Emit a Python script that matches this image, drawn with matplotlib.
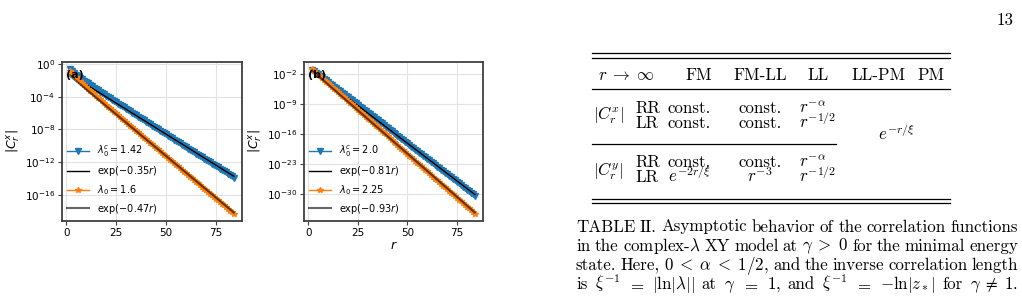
import numpy as np
import matplotlib.pyplot as plt
from matplotlib.lines import Line2D
from matplotlib.ticker import FixedLocator, NullLocator

# ---- data (log10 |C_r^x|), r = 2 ... 84 ----
r = np.arange(2, 85)

a_blue = [-0.62, -0.87, -1.08, -1.28, -1.47, -1.66, -1.84, -2.02, -2.19, -2.36,
          -2.53, -2.70, -2.87, -3.04, -3.20, -3.37, -3.53, -3.70, -3.86, -4.02,
          -4.19, -4.35, -4.51, -4.67, -4.83, -4.99, -5.15, -5.31, -5.47, -5.63,
          -5.79, -5.95, -6.10, -6.26, -6.42, -6.58, -6.74, -6.89, -7.05, -7.21,
          -7.37, -7.52, -7.68, -7.84, -7.99, -8.15, -8.31, -8.46, -8.62, -8.78,
          -8.93, -9.09, -9.24, -9.40, -9.56, -9.71, -9.87, -10.02, -10.18, -10.34,
          -10.49, -10.65, -10.80, -10.96, -11.11, -11.27, -11.42, -11.58, -11.73,
          -11.89, -12.04, -12.20, -12.35, -12.51, -12.66, -12.82, -12.97, -13.13,
          -13.28, -13.44, -13.59, -13.75, -13.90]
a_orange = [-0.80, -1.09, -1.36, -1.61, -1.86, -2.10, -2.32, -2.56, -2.78, -3.01,
            -3.23, -3.45, -3.67, -3.89, -4.11, -4.33, -4.54, -4.76, -4.97, -5.19,
            -5.40, -5.62, -5.83, -6.04, -6.26, -6.47, -6.68, -6.89, -7.10, -7.32,
            -7.52, -7.74, -7.95, -8.16, -8.37, -8.58, -8.79, -9.00, -9.20, -9.42,
            -9.62, -9.84, -10.04, -10.26, -10.46, -10.67, -10.88, -11.09, -11.30,
            -11.51, -11.71, -11.92, -12.13, -12.34, -12.54, -12.76, -12.96, -13.17,
            -13.38, -13.59, -13.79, -14.00, -14.20, -14.42, -14.62, -14.83, -15.04,
            -15.25, -15.45, -15.66, -15.87, -16.07, -16.27, -16.49, -16.69, -16.90,
            -17.11, -17.32, -17.52, -17.73, -17.94, -18.14, -18.34]
b_blue = [-1.00, -1.36, -1.72, -2.08, -2.43, -2.79, -3.15, -3.51, -3.87, -4.23,
          -4.59, -4.94, -5.30, -5.66, -6.02, -6.38, -6.74, -7.09, -7.45, -7.81,
          -8.17, -8.53, -8.89, -9.25, -9.60, -9.96, -10.32, -10.68, -11.04, -11.40,
          -11.76, -12.11, -12.47, -12.83, -13.19, -13.55, -13.91, -14.26, -14.62,
          -14.98, -15.34, -15.70, -16.06, -16.42, -16.77, -17.13, -17.49, -17.85,
          -18.21, -18.57, -18.93, -19.28, -19.64, -20.00, -20.36, -20.72, -21.08,
          -21.44, -21.79, -22.15, -22.51, -22.87, -23.23, -23.59, -23.94, -24.30,
          -24.66, -25.02, -25.38, -25.74, -26.10, -26.45, -26.81, -27.17, -27.53,
          -27.89, -28.25, -28.60, -28.96, -29.32, -29.68, -30.04, -30.40]
b_orange = [-0.90, -1.31, -1.72, -2.13, -2.54, -2.96, -3.37, -3.78, -4.19, -4.60,
            -5.01, -5.42, -5.83, -6.24, -6.65, -7.07, -7.48, -7.89, -8.30, -8.71,
            -9.12, -9.53, -9.94, -10.35, -10.76, -11.18, -11.59, -12.00, -12.41,
            -12.82, -13.23, -13.64, -14.05, -14.46, -14.87, -15.29, -15.70, -16.11,
            -16.52, -16.93, -17.34, -17.75, -18.16, -18.57, -18.98, -19.40, -19.81,
            -20.22, -20.63, -21.04, -21.45, -21.86, -22.27, -22.68, -23.09, -23.51,
            -23.92, -24.33, -24.74, -25.15, -25.56, -25.97, -26.38, -26.79, -27.20,
            -27.62, -28.03, -28.44, -28.85, -29.26, -29.67, -30.08, -30.49, -30.90,
            -31.31, -31.73, -32.14, -32.55, -32.96, -33.37, -33.78, -34.19, -34.60]

# fit rates (from legend) and log10 amplitudes
a_rates, a_amps = [0.35, 0.47], [-0.97, -1.04]
b_rates, b_amps = [0.81, 0.93], [-0.56, -0.38]

a_labels = [r'$\lambda_0^c=1.42$', r'$\exp(-0.35r)$', r'$\lambda_0=1.6$', r'$\exp(-0.47r)$']
b_labels = [r'$\lambda_0^c=2.0$', r'$\exp(-0.81r)$', r'$\lambda_0=2.25$', r'$\exp(-0.93r)$']
a_yticks = [1e0, 1e-4, 1e-8, 1e-12, 1e-16]
b_yticks = [1e-2, 1e-9, 1e-16, 1e-23, 1e-30]
xticks = [0, 25, 50, 75]

# ---- table / caption text ----
header = [r'$r\;\to\;\infty$', 'FM', 'FM-LL', 'LL', 'LL-PM', 'PM']
row_kinds = ['RR', 'LR', 'RR', 'LR']
col_fm = ['const.', 'const.', 'const.', r'$e^{-2r/\xi}$']
col_fmll = ['const.', 'const.', 'const.', r'$r^{-3}$']
col_ll = [r'$r^{-\alpha}$', r'$r^{-1/2}$', r'$r^{-\alpha}$', r'$r^{-1/2}$']
caption = [
    ['TABLE', 'II.', 'Asymptotic', 'behavior', 'of', 'the', 'correlation', 'functions'],
    ['in', 'the', r'complex-$\lambda$', 'XY', 'model', 'at', r'$\gamma\;>\;0$', 'for', 'the',
     'minimal', 'energy'],
    ['state.', 'Here,', r'$0\;<\;\alpha\;<\;1/2$,', 'and', 'the', 'inverse', 'correlation',
     'length'],
    ['is', r'$\xi^{-1}$', '$=$', r'$|\ln|\lambda||$', 'at', r'$\gamma$', '$=$', '$1$,', 'and',
     r'$\xi^{-1}$', '$=$', r'$-\ln|z_*|$', 'for', r'$\gamma\;\neq\;1$.'],
]

W, H = 1022, 304
fig = plt.figure(figsize=(W / 100, H / 100), dpi=100)


def px_rect(left, top, right, bottom):
    return [left / W, 1 - bottom / H, (right - left) / W, (bottom - top) / H]


def panel(ax, blue, orange, rates, amps, labels, yticks, tag):
    ax.semilogy(r, 10.0 ** np.array(blue), marker='v', ms=3.8, lw=1, color='#1f77b4',
                label=labels[0])
    ax.semilogy(r, 10.0 ** amps[0] * np.exp(-rates[0] * r), color='k', lw=1, label=labels[1])
    ax.semilogy(r, 10.0 ** np.array(orange), marker='*', ms=4.2, lw=1, color='#ff7f0e',
                label=labels[2])
    ax.semilogy(r, 10.0 ** amps[1] * np.exp(-rates[1] * r), color='k', alpha=0.6, lw=1.5,
                label=labels[3])
    ax.yaxis.set_major_locator(FixedLocator(yticks))
    ax.yaxis.set_minor_locator(NullLocator())
    ax.set_xticks(xticks)
    ax.grid(color='#e3e3e3', lw=0.8)
    ax.set_axisbelow(True)
    for s in ax.spines.values():
        s.set_color('#404040')
        s.set_linewidth(1.3)
    ax.tick_params(labelsize=7.5, length=3, width=0.8, color='#404040', pad=2)
    ax.set_ylabel(r'$|C^x_r|$', fontsize=9, labelpad=2)
    ax.text(0.02, 0.92, tag, transform=ax.transAxes, fontsize=8, fontweight='bold',
            va='center')
    ax.legend(loc='lower left', frameon=False, fontsize=7, handlelength=2.2,
              labelspacing=0.5, borderaxespad=0.15, handletextpad=0.8)


axa = fig.add_axes(px_rect(62, 62, 242, 221))
panel(axa, a_blue, a_orange, a_rates, a_amps, a_labels, a_yticks, '(a)')
axb = fig.add_axes(px_rect(304, 62, 483, 221))
panel(axb, b_blue, b_orange, b_rates, b_amps, b_labels, b_yticks, '(b)')
axb.set_xlabel(r'$r$', fontsize=9, labelpad=1)


# ---- table ----
def tt(x, y, s, ha='center', fs=12.2):
    return fig.text(x / W, 1 - y / H, s, ha=ha, va='baseline', family='cmr10',
                    math_fontfamily='cm', fontsize=fs)


def rule(x0, x1, y, lw=0.9):
    fig.add_artist(Line2D([x0 / W, x1 / W], [1 - y / H] * 2, color='k', lw=lw))


for y in (53, 57.5, 89.5, 198.5, 203):
    rule(592, 950, y)
rule(592, 836, 143.7)

for x, s in zip([626.7, 699, 760.7, 818.3, 878.3, 930.7], header):
    tt(x, 80, s)

row_y = [113.3, 128.3, 166.7, 182.3]
for i, y in enumerate(row_y):
    tt(635, y, row_kinds[i], ha='left')
    tt(668, y, col_fm[i], ha='left')
    tt(760, y, col_fmll[i])
    tt(799, y, col_ll[i], ha='left')
tt(593, 120, r'$|C^x_r|$', ha='left')
tt(593, 176, r'$|C^y_r|$', ha='left')
tt(896.7, 140, r'$e^{-r/\xi}$')

tt(1014, 25, '13', ha='right')

# ---- justified caption ----
renderer = fig.canvas.get_renderer()
x0, x1 = 576, 1018
for words, y in zip(caption, [231.5, 250.7, 269.8, 289]):
    objs = [tt(0, y, w, ha='left', fs=12.2) for w in words]
    widths = [o.get_window_extent(renderer).width for o in objs]
    gap = (x1 - x0 - sum(widths)) / (len(objs) - 1)
    x = x0
    for o, w in zip(objs, widths):
        o.set_x(x / W)
        x += w + gap

fig.savefig('out.png', dpi=100)
